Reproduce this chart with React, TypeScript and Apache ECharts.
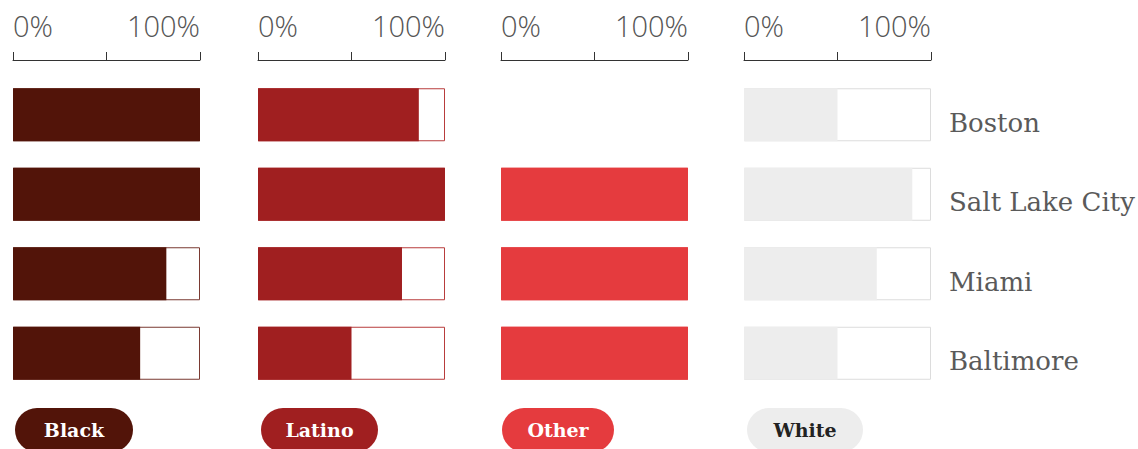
import React, { useEffect, useRef } from "react";
import * as echarts from "echarts";

const cities = ["Boston", "Salt Lake City", "Miami", "Baltimore"];
const groups = ["Black", "Latino", "Other", "White"];
const blackValues = [100, 100, 82, 68];
const latinoValues = [86, 100, 77, 50];
const otherValues: (number | null)[] = [null, 100, 100, 100];
const whiteValues = [50, 90, 71, 50];
const tickValues = [0, 50, 100];
const tickLabels: Record<number, string> = { 0: "0%", 100: "100%" };

const groupValues = [blackValues, latinoValues, otherValues, whiteValues];
const fillColors = ["#521409", "#a01f20", "#e53b3e", "#ededed"];
const borderColors = ["#7a3a32", "#b83c3c", "#e85254", "#dcdcdc"];
const pillText = ["#ffffff", "#ffffff", "#ffffff", "#222222"];
const gridLefts = [13, 258, 501, 744];
const gridWidth = 187;
const pillLefts = [15, 261, 502, 747];
const pillWidths = [118, 117, 112, 116];

export default function App() {
  const ref = useRef<HTMLDivElement>(null);
  useEffect(() => {
    const chart = echarts.init(ref.current!, null, { renderer: "svg" });
    const grids: any[] = [];
    const xAxes: any[] = [];
    const yAxes: any[] = [];
    const series: any[] = [];
    groups.forEach((g, i) => {
      grids.push({ left: gridLefts[i], width: gridWidth, top: 75, height: 318 });
      xAxes.push({
        gridIndex: i,
        type: "value",
        position: "top",
        min: tickValues[0],
        max: tickValues[tickValues.length - 1],
        interval: 50,
        offset: 15,
        axisLine: { show: true, lineStyle: { color: "#333", width: 1 } },
        axisTick: { show: true, length: 8, lineStyle: { color: "#333", width: 1 } },
        splitLine: { show: false },
        axisLabel: {
          show: true,
          margin: 20,
          formatter: (v: number) => tickLabels[v] ?? "",
          color: "#555",
          fontFamily: "Open Sans",
          fontWeight: 300,
          fontSize: 29,
          alignMinLabel: "left",
          alignMaxLabel: "right",
        },
      });
      yAxes.push({
        gridIndex: i,
        type: "category",
        data: cities,
        inverse: true,
        position: "right",
        axisLine: { show: false },
        axisTick: { show: false },
        splitLine: { show: false },
        axisLabel: {
          show: i === 3,
          margin: 18,
          color: "#5a5a5a",
          fontFamily: "DejaVu Serif",
          fontSize: 26,
          verticalAlign: "top",
          lineHeight: 16,
        },
      });
      const vals = groupValues[i];
      series.push({
        type: "bar",
        xAxisIndex: i,
        yAxisIndex: i,
        barWidth: 53,
        barGap: "-100%",
        silent: true,
        data: vals.map((v) => (v == null ? null : tickValues[tickValues.length - 1])),
        itemStyle: { color: "#ffffff", borderColor: borderColors[i], borderWidth: 1 },
      });
      series.push({
        type: "bar",
        xAxisIndex: i,
        yAxisIndex: i,
        barWidth: 53,
        barGap: "-100%",
        silent: true,
        data: vals,
        itemStyle: { color: fillColors[i] },
      });
    });
    const graphic: any[] = [];
    groups.forEach((g, i) => {
      graphic.push({
        type: "rect",
        left: pillLefts[i],
        top: 408,
        shape: { width: pillWidths[i], height: 44, r: 22 },
        style: { fill: fillColors[i] },
      });
      graphic.push({
        type: "text",
        x: pillLefts[i] + pillWidths[i] / 2,
        y: 430,
        style: {
          text: g,
          fill: pillText[i],
          font: "bold 19px 'DejaVu Serif'",
          align: "center",
          verticalAlign: "middle",
        },
      });
    });
    chart.setOption({
      animation: false,
      grid: grids,
      xAxis: xAxes,
      yAxis: yAxes,
      series,
      graphic,
    });
    return () => chart.dispose();
  }, []);
  return (
    <div
      ref={ref}
      style={{ position: "fixed", left: 0, top: 0, width: 1138, height: 449, background: "#fff" }}
    />
  );
}
